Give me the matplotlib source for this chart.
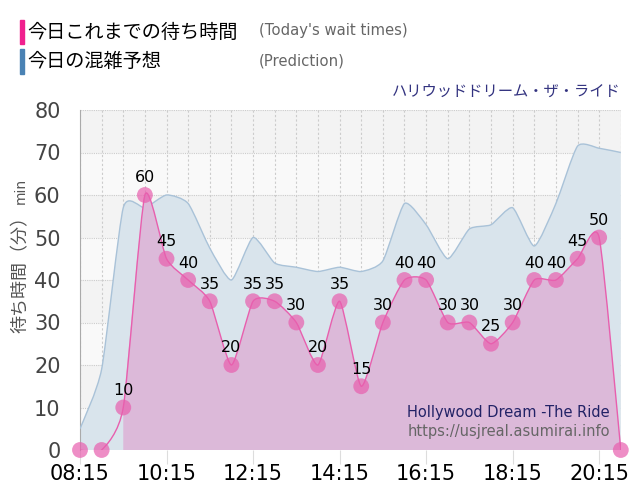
import numpy as np
import matplotlib
matplotlib.use("Agg")
import matplotlib.pyplot as plt
from matplotlib.path import Path
from matplotlib.patches import PathPatch, Rectangle

plt.rcParams['font.family'] = ['DejaVu Sans', 'Noto Sans CJK JP']

times = ['08:15', '08:45', '09:15', '09:45', '10:15', '10:45', '11:15', '11:45',
         '12:15', '12:45', '13:15', '13:45', '14:15', '14:45', '15:15', '15:45',
         '16:15', '16:45', '17:15', '17:45', '18:15', '18:45', '19:15', '19:45',
         '20:15', '20:45']
wait_today = [0, 0, 10, 60, 45, 40, 35, 20, 35, 35, 30, 20, 35, 15, 30, 40,
              40, 30, 30, 25, 30, 40, 40, 45, 50, 0]
prediction = [5, 19, 57, 57, 60, 58, 47.5, 40, 50, 44, 43, 42, 43, 42, 44.5, 58,
              53, 45, 52, 53, 57, 48, 58, 71.5, 71, 70]
tick_labels = ['08:15', '10:15', '12:15', '14:15', '16:15', '18:15', '20:15']

PINK = '#e85fae'
BLUE_LINE = '#a9c2d8'
BLUE_FILL = '#d9e4ec'
PINK_FILL = '#dcb9d9'
JP = ['Noto Sans CJK JP', 'DejaVu Sans']


def smooth_path(x, y, k=0.1, close=False):
    # cubic bezier through the points (catmull-rom style control points)
    x = np.asarray(x, float)
    y = np.asarray(y, float)
    n = len(x)
    verts = [(x[0], y[0])]
    codes = [Path.MOVETO]
    for i in range(n - 1):
        x0, y0 = (x[i - 1], y[i - 1]) if i > 0 else (x[i], y[i])
        x3, y3 = (x[i + 2], y[i + 2]) if i + 2 < n else (x[i + 1], y[i + 1])
        c1 = (x[i] + (x[i + 1] - x0) * k, y[i] + (y[i + 1] - y0) * k)
        c2 = (x[i + 1] - (x3 - x[i]) * k, y[i + 1] - (y3 - y[i]) * k)
        verts += [c1, c2, (x[i + 1], y[i + 1])]
        codes += [Path.CURVE4] * 3
    if close:
        verts += [(x[-1], 0), (x[0], 0), (x[0], y[0])]
        codes += [Path.LINETO, Path.LINETO, Path.CLOSEPOLY]
    return Path(verts, codes)


xs = np.arange(len(times))

fig = plt.figure(figsize=(6.4, 5), dpi=100)
ax = fig.add_axes([0.125, 0.1, 0.845, 0.68])

# background bands
for i in range(8):
    col = '#f3f3f3' if i % 2 == 1 else '#f9f9f9'
    ax.add_patch(Rectangle((0, i * 10), len(times) - 1, 10, facecolor=col,
                           edgecolor='none', zorder=0))

# prediction area
ax.add_patch(PathPatch(smooth_path(xs, prediction, close=True), facecolor=BLUE_FILL,
                       edgecolor='none', zorder=2))
ax.add_patch(PathPatch(smooth_path(xs, prediction), facecolor='none',
                       edgecolor=BLUE_LINE, lw=1, zorder=3))

# today's wait times
ax.add_patch(PathPatch(smooth_path(xs[2:], wait_today[2:], close=True), facecolor=PINK_FILL,
                       edgecolor='none', zorder=4))
ax.add_patch(PathPatch(smooth_path(xs, wait_today), facecolor='none',
                       edgecolor=PINK, lw=1, zorder=5))
ax.scatter(xs, wait_today, s=130, color=PINK, alpha=0.7, edgecolors='none',
           zorder=6, clip_on=False)

for x, v in zip(xs, wait_today):
    if v > 0:
        ax.text(x, v + 4.0, str(v), ha='center', va='center', fontsize=11.5,
                color='black', zorder=7)

ax.set_xlim(0, len(times) - 1)
ax.set_ylim(0, 80)
ax.set_xticks([times.index(t) for t in tick_labels])
ax.set_xticklabels(tick_labels, fontsize=15)
ax.set_yticks(range(0, 81, 10))
ax.set_yticklabels([str(v) for v in range(0, 81, 10)], fontsize=15, color='#444444')
ax.set_xticks(xs, minor=True)

ax.grid(True, which='both', axis='x', color='#cccccc', ls=(0, (2, 2)), lw=0.8, zorder=1)
ax.grid(True, axis='y', color='#cccccc', ls=(0, (1, 1)), lw=0.8, zorder=1)
for line in ax.get_xgridlines() + ax.get_ygridlines():
    line.set_zorder(4.5)

for s in ['top', 'right', 'bottom']:
    ax.spines[s].set_visible(False)
ax.spines['left'].set_color('#aaaaaa')
ax.tick_params(axis='x', which='major', length=10, color='#dddddd', pad=0)
ax.tick_params(axis='x', which='minor', length=0)
ax.tick_params(axis='y', length=0, pad=14)

# y axis label: japanese part, then a smaller "min" right after it
ylab = fig.text(0.032, 0.334, '待ち時間（分）', rotation=90, ha='center', va='bottom',
                fontsize=13, color='#555555', family=JP)
ax.annotate('min', xy=(0.5, 1), xycoords=ylab, xytext=(0, 2), textcoords='offset points',
            rotation=90, ha='center', va='bottom', fontsize=10, color='#555555',
            annotation_clip=False)

# legend
fig.add_artist(Rectangle((0.031, 0.912), 0.007, 0.048, color='#f0208e',
                         transform=fig.transFigure))
fig.add_artist(Rectangle((0.031, 0.853), 0.007, 0.048, color='#4a82b4',
                         transform=fig.transFigure))
fig.text(0.042, 0.936, '今日これまでの待ち時間', fontsize=13.8, va='center', family=JP)
fig.text(0.042, 0.877, '今日の混雑予想', fontsize=13.8, va='center', family=JP)
fig.text(0.405, 0.938, "(Today's wait times)", fontsize=10.7, va='center', color='#666666')
fig.text(0.405, 0.879, '(Prediction)', fontsize=10.7, va='center', color='#666666')

fig.text(0.97, 0.818, 'ハリウッドドリーム・ザ・ライド', fontsize=11, ha='right',
         va='center', color='#333380', family=JP)

ax.text(0.98, 0.11, 'Hollywood Dream -The Ride', transform=ax.transAxes, ha='right',
        va='center', fontsize=10.5, color='#222266', zorder=8)
ax.text(0.98, 0.055, 'https://usjreal.asumirai.info', transform=ax.transAxes, ha='right',
        va='center', fontsize=10.5, color='#666666', zorder=8)

fig.savefig('out.png', dpi=100)
